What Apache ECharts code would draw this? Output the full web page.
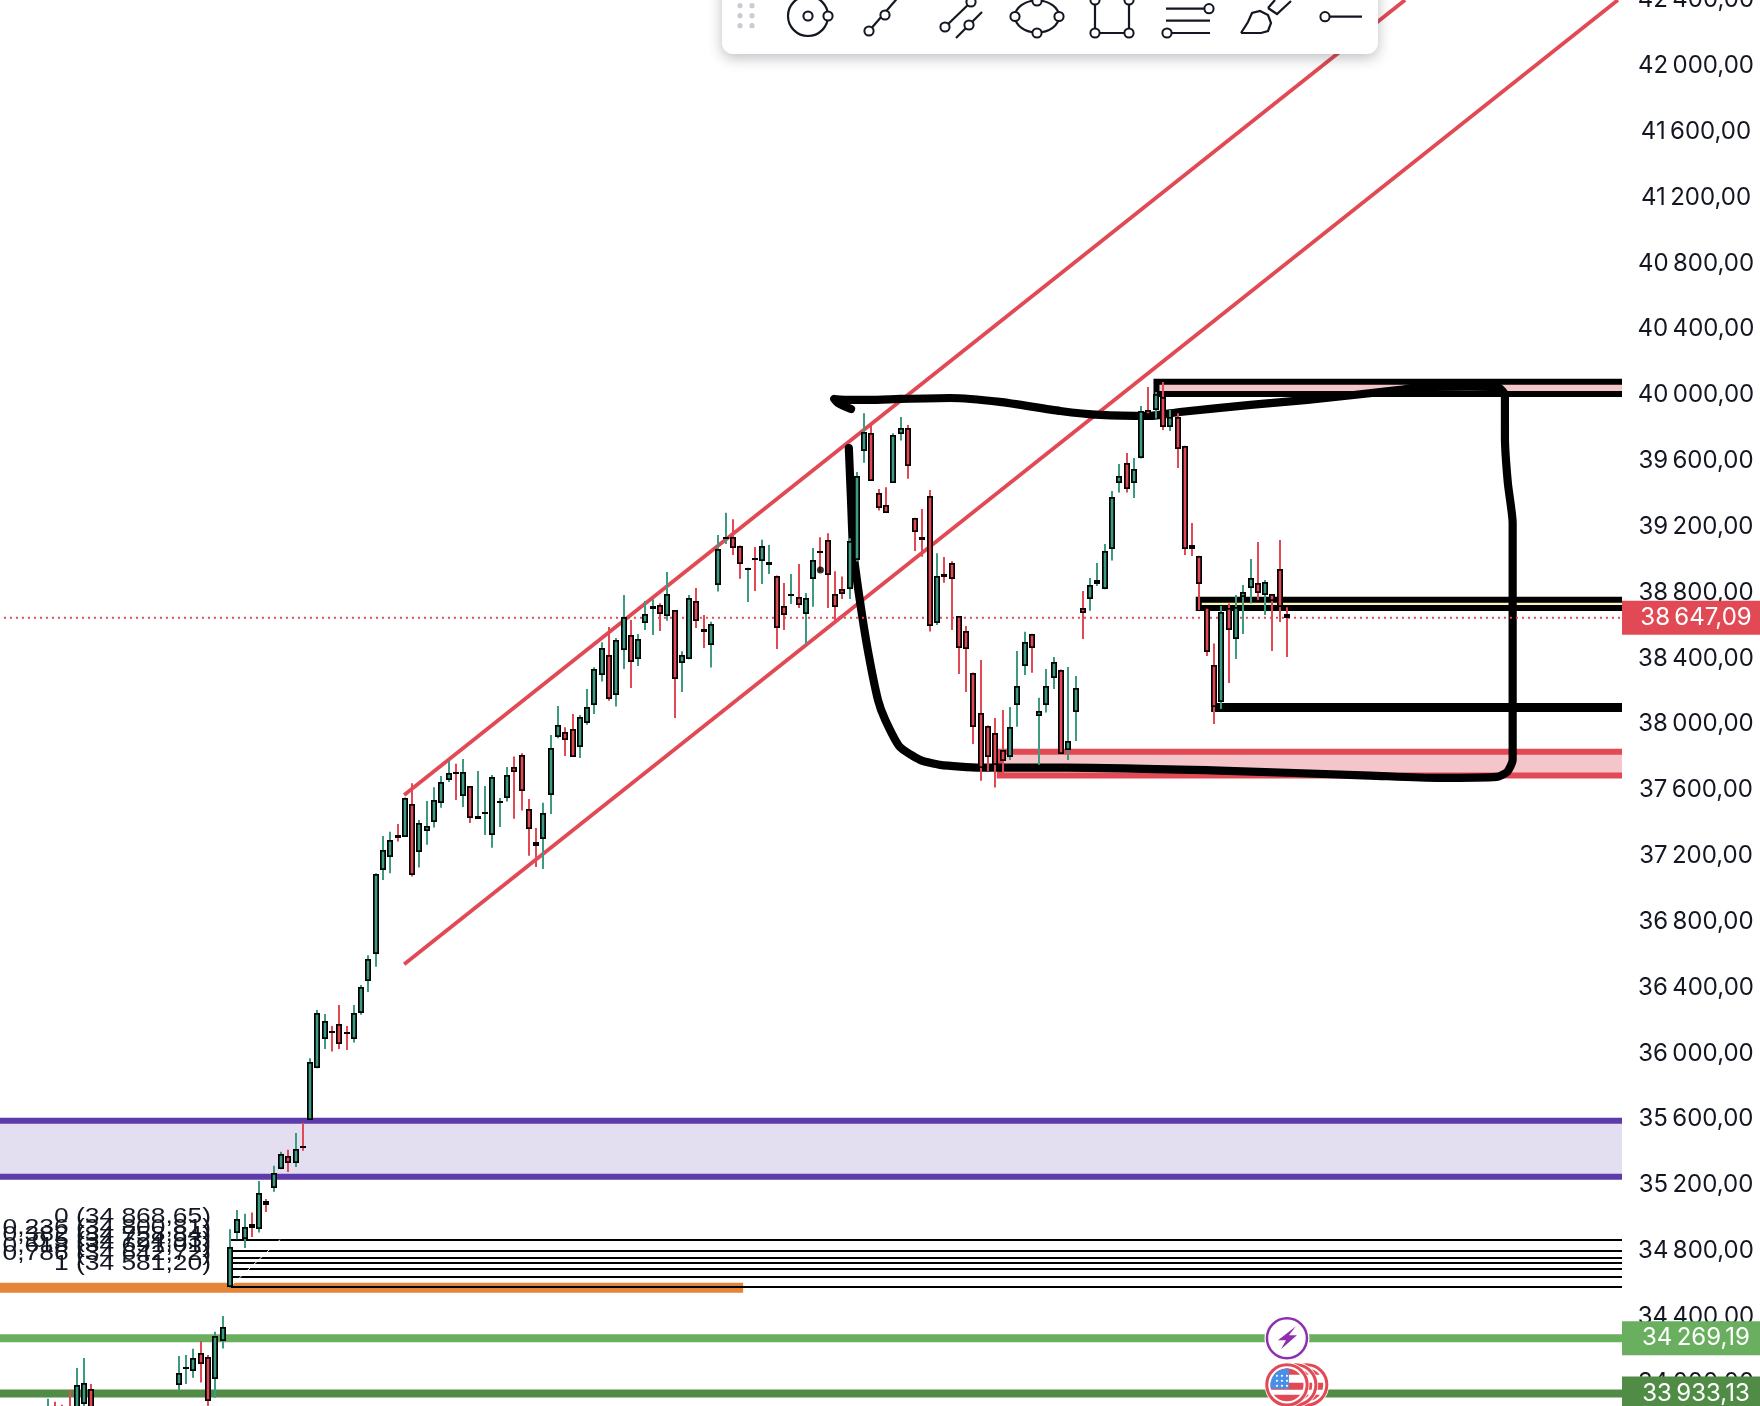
<!DOCTYPE html>
<html><head><meta charset="utf-8">
<style>html,body{margin:0;padding:0;background:#fff;overflow:hidden}#c{width:1760px;height:1406px}</style>
<script src="https://cdn.jsdelivr.net/npm/echarts@6/dist/echarts.min.js"></script>
</head><body><div id="c"></div>
<script>
// [bar, open, close, low, high]
const candles = [
[0,33740,33810,33700,33901],[1,33840,33760,33720,33883],[2,33840,33770,33730,33865],[3,33840,33740,33700,33956],
[4,33800,33984,33780,34089],[5,33867,33996,33840,34150],[6,33960,33780,33750,33992],
[18,33984,34057,33952,34162],[19,34096,34097,33992,34168],[20,34073,34148,34029,34205],[21,34182,34112,34000,34251],
[22,34158,33891,33800,34168],[23,34021,34282,33907,34308],[24,34255,34336,34207,34405],[25,34581,34826,34575,34932],
[26,34907,34993,34871,35049],[27,34871,34944,34818,35025],[28,34962,34942,34885,35033],[29,34932,35150,34912,35225],
[30,35104,35080,35037,35116],[31,35185,35272,35159,35317],[32,35296,35387,35296,35402],[33,35375,35333,35280,35414],
[34,35331,35418,35310,35517],[35,35439,35437,35408,35578],[36,35596,35946,35596,35970],[37,35910,36244,35910,36264],
[38,36086,36199,36027,36240],[39,36139,36138,36011,36167],[40,36181,36055,36027,36294],[41,36127,36126,36021,36167],
[42,36086,36244,36066,36294],[43,36248,36402,36234,36416],[44,36438,36576,36373,36596],[45,36602,37088,36527,37094],
[46,37114,37236,37054,37321],[47,37192,37297,37094,37346],[48,37327,37307,37287,37394],[49,37317,37554,37317,37554],
[50,37516,37084,37074,37641],[51,37224,37402,37129,37418],[52,37352,37384,37267,37534],[53,37404,37542,37372,37617],
[54,37520,37651,37493,37686],[55,37659,37706,37649,37777],[56,37707,37706,37540,37759],[57,37564,37712,37497,37789],
[58,37625,37429,37400,37625],[59,37421,37441,37431,37716],[60,37467,37468,37327,37625],[61,37325,37682,37250,37692],
[62,37530,37531,37376,37552],[63,37550,37694,37530,37740],[64,37742,37710,37425,37803],[65,37815,37593,37475,37823],
[66,37487,37364,37200,37546],[67,37285,37262,37133,37370],[68,37301,37463,37121,37522],[69,37568,37858,37455,37935],
[70,37921,37998,37915,38111],[71,37953,37905,37807,37981],[72,37973,37803,37803,38062],[73,37860,38046,37795,38056],
[74,38006,38107,37996,38214],[75,38115,38334,38062,38346],[76,38299,38465,38259,38498],[77,38423,38154,38143,38591],
[78,38178,38514,38107,38524],[79,38451,38654,38336,38785],[80,38544,38378,38220,38633],[81,38395,38520,38354,38548],
[82,38615,38672,38573,38749],[83,38698,38721,38542,38759],[84,38727,38668,38567,38735],[85,38656,38793,38629,38925],
[86,38694,38273,38038,38694],[87,38370,38423,38196,38443],[88,38395,38769,38395,38785],[89,38751,38625,38585,38828],
[90,38579,38563,38463,38664],[91,38480,38611,38344,38623],[92,38846,39067,38806,39150],[93,39134,39135,39095,39284],
[94,39140,39071,39028,39245],[95,39085,38974,38883,39085],[96,38951,38952,38743,38951],[97,39012,38996,38810,39077],
[98,38990,39085,38852,39120],[99,38968,38988,38913,39089],[100,38903,38583,38457,38903],[101,38721,38662,38573,38858],
[102,38793,38794,38731,38913],[103,38775,38723,38706,38974],[104,38668,38769,38482,38797],[105,38881,39000,38714,39071],
[106,39054,39053,38925,39136],[107,39122,38905,38706,39160],[108,38793,38710,38633,38929],[109,38824,38789,38761,38897],
[110,38820,39111,38761,39130],[111,38998,39508,38988,39533],[112,39660,39778,39589,39889],[113,39772,39478,39478,39824],
[114,39407,39312,39298,39429],[115,39334,39284,39284,39439],[116,39466,39759,39466,39767],[117,39763,39802,39723,39867],
[118,39802,39569,39492,39818],[119,39255,39168,39053,39255],[120,39136,39122,39018,39308],[121,39389,38597,38563,39423],
[122,38615,38903,38603,39038],[123,38915,38895,38860,39016],[124,38980,38883,38573,38990],[125,38658,38463,38305,38658],
[126,38565,38455,38196,38597],[127,38314,37981,37880,38314],[128,38071,37732,37657,38390],[129,37992,37799,37716,37992],
[130,37949,37753,37615,38038],[131,37846,37775,37702,38087],[132,37799,37985,37783,38105],[133,38115,38235,37985,38445],
[134,38354,38502,38299,38561],[135,38550,38461,38312,38550],[136,38050,38081,37753,38160],[137,38115,38235,38071,38336],
[138,38279,38380,38214,38409],[139,38332,37819,37819,38332],[140,37842,37900,37783,38348],[141,38073,38222,37898,38293],
[142,38708,38674,38518,38810],[143,38759,38848,38690,38889],[144,38854,38878,38840,38980],[145,38820,39055,38820,39095],
[146,39063,39382,38994,39417],[147,39463,39510,39407,39581],[148,39589,39427,39407,39648],[149,39463,39553,39374,39617],
[150,39615,39905,39615,39933],[151,39909,39879,39879,40049],[152,39909,40006,39858,40018],[153,39986,39804,39787,40079],
[154,39804,39868,39781,39909],[155,39864,39670,39557,39889],[156,39692,39063,39028,39692],[157,39089,39065,39022,39222],
[158,39024,38850,38694,39024],[159,38710,38441,38415,38710],[160,38362,38107,38001,38491],[161,38137,38684,38093,38718],
[162,38708,38570,38250,38734],[163,38516,38710,38396,38785],[164,38771,38805,38548,38846],[165,38826,38886,38734,39004],
[166,38860,38795,38755,39107],[167,38783,38866,38664,38876],[168,38791,38751,38445,38791],[169,38945,38714,38621,39119],
[170,38672,38647,38408,38710]
];
const yTicks = {min:33600, max:42400, step:400};
const lastPrice = 38647.09, supportA = 34269.19, supportB = 33933.13;
const upperChannel = [[48.9,37570],[186.2,42400]];
const lowerChannel = [[48.9,36542],[215.4,42400]];
// zones: [from bar, top price, bottom price]
const purpleZone = [[-8,35590,35250]];
const redZone = [[130.6,37833,37689]];
const topZone = [[152.1,40081,40006]];
const creamZone = [[157.9,38756,38706]];
const thickLevel = [[159.6,38102],[215.96,38102]];
const orangeLevel = [[-6.54,34575.6],[95.4,34575.6]];
const fibLevels = ['0','0,236','0,382','0,5','0,618','0,786','1'];
const fibPrices = [34868.65,34800.81,34758.84,34724.93,34691.01,34642.72,34581.20];
const fibStartBar = 25, fibLabelBar = 22.4;
const fibDiagonal = [[25,34581.2],[31.9,34868.65]];
const handStroke = [[110.2,39915],[108.4,39952],[107.9,39976],[110.1,39970],[112.8,39970],[116.9,39976],[123.8,39982],[130.6,39958],[138.9,39903],[144.4,39879],[151.2,39873],[155.3,39897],[165,39940],[172.8,39970],[185.5,40031],[188.2,40049],[195.1,40051],[198.8,40049],[199.9,40000],[199.9,39745],[200.3,39466],[200.96,39223],[200.96,37862],[200.96,37783],[200.2,37710],[198.8,37680],[190.6,37674],[181.4,37688],[160.8,37718],[139.8,37736],[127.9,37736],[122.4,37753],[119.7,37783],[116.9,37862],[114.9,38026],[113.9,38147],[112.5,38451],[111.4,38755],[110.5,39059],[110.2,39363],[109.9,39678]];
const handDot = [[106,38937]];
const boltEvents = [[170,34269.19]];
const flagEvents = [[172.7,33986],[171.2,33986],[170,33986]];

const RED='#e14a54',TEAL='#3f9a82',PURPLE='#5e3bab',LAV='#e3dff1',ORANGE='#e58539',GREEN='#6aae5f',DGREEN='#518c47',PINK='#f4c6ca',INK='#131722',CREAM='#fff2b8';
const FONT='400 24px Inter, "Noto Sans", sans-serif';
const X0=-6.54,X1=215.96;
function fmt(v,sep){const s=v.toFixed(2).split('.');return s[0].replace(/(\d+)(\d{3})$/,'$1'+(sep||'\u2009')+'$2')+','+s[1];}
function lineSeries(data,color,width,z,extra){return Object.assign({type:'line',data,symbol:'none',silent:true,animation:false,z,lineStyle:{color,width,cap:'butt'}},extra||{});}
function zoneSeries(rows,color,fill,width,z){return {type:'custom',data:rows,animation:false,silent:true,z,encode:{x:0,y:[1,2]},renderItem(p,api){
  const a=api.coord([api.value(0),api.value(1)]),b=api.coord([api.value(0),api.value(2)]),r=api.coord([X1,api.value(1)])[0];
  return {type:'group',children:[
    {type:'rect',shape:{x:a[0],y:a[1],width:r-a[0],height:b[1]-a[1]},style:{fill}},
    {type:'polyline',shape:{points:[[r,a[1]],[a[0],a[1]],[a[0],b[1]],[r,b[1]]]},style:{stroke:color,lineWidth:width,fill:null,lineJoin:'miter'}}]};
}};}
function bandPoly(y1,y2,r){const pts=[];const n=10;
  for(let i=0;i<=n;i++){const y=y1+(y2-y1)*i/n;pts.push([Math.sqrt(Math.max(0,r*r-y*y)),y]);}
  for(let i=n;i>=0;i--){const y=y1+(y2-y1)*i/n;pts.push([-Math.sqrt(Math.max(0,r*r-y*y)),y]);}
  return pts;}
function cantonPoly(y1,y2,r,xr){const pts=[];const n=10;
  pts.push([xr,-Math.sqrt(r*r-xr*xr)]);pts.push([xr,y2]);
  for(let i=n;i>=0;i--){const y=y1+(y2-y1)*i/n;pts.push([-Math.sqrt(Math.max(0,r*r-y*y)),y]);}
  return pts;}
const series=[
 zoneSeries(purpleZone,PURPLE,LAV,6,2),
 zoneSeries(redZone,RED,PINK,6,2),
 zoneSeries(topZone,'#000',PINK,6,2),
 zoneSeries(creamZone,'#000',CREAM,6,2),
 lineSeries(orangeLevel,ORANGE,10,2),
 lineSeries([[X0,supportA],[X1,supportA]],GREEN,8,2),
 lineSeries([[X0,supportB],[X1,supportB]],DGREEN,8,2),
 lineSeries(thickLevel,'#000',9,2),
 {type:'custom',data:fibPrices.map((p,i)=>[fibStartBar,p,i]),animation:false,silent:true,z:3,encode:{x:0,y:1},renderItem(pr,api){
   const a=api.coord([api.value(0),api.value(1)]),r=api.coord([X1,api.value(1)])[0],tx=api.coord([fibLabelBar,api.value(1)])[0],i=api.value(2);
   return {type:'group',children:[
     {type:'rect',shape:{x:a[0],y:Math.round(a[1])-1,width:r-a[0],height:2},style:{fill:'#000'}},
     {type:'group',x:tx,y:a[1]-22.5,scaleX:1.2,children:[
       {type:'text',style:{x:0,y:0,text:fibLevels[i]+' ('+fmt(fibPrices[i],' ')+')',fill:INK,font:'400 22px "Liberation Sans", sans-serif',textAlign:'right',textVerticalAlign:'middle'}}]}]};
 }},
 lineSeries(fibDiagonal,'#ffffff',1,3),
 lineSeries(upperChannel,RED,3.8,3),
 lineSeries(lowerChannel,RED,3.8,3),
 lineSeries(handStroke,'#000',8.2,4,{smooth:0.2,lineStyle:{color:'#000',width:8.2,cap:'round',join:'round'}}),
 lineSeries([[-6,lastPrice],[X1,lastPrice]],RED,2,5,{lineStyle:{color:RED,width:2,type:[2,4]}}),
 {type:'scatter',data:handDot,symbol:'circle',symbolSize:7,itemStyle:{color:'#000'},silent:true,animation:false,z:7},
 {type:'custom',data:candles,animation:false,silent:true,z:6,encode:{x:0,y:[1,2,3,4]},renderItem(p,api){
   const b=api.value(0),o=api.value(1),c=api.value(2),l=api.value(3),h=api.value(4);
   const x=Math.round(api.coord([b,o])[0]),yo=api.coord([b,o])[1],yc=api.coord([b,c])[1],yl=api.coord([b,l])[1],yh=api.coord([b,h])[1];
   const col=c>=o?TEAL:RED;const t=Math.round(Math.min(yo,yc));let ht=Math.round(Math.max(yo,yc))-t;if(ht<2)ht=2;
   const kids=[{type:'rect',shape:{x:x-1,y:yh,width:2,height:yl-yh},style:{fill:col}},
     {type:'rect',shape:{x:x-3,y:t,width:6,height:ht},style:{fill:'#000'}}];
   if(ht>4)kids.push({type:'rect',shape:{x:x-1.3,y:t+1.7,width:2.6,height:ht-3.4},style:{fill:col}});
   return {type:'group',children:kids};
 }},
 {type:'custom',data:[[lastPrice,0],[supportA,1],[supportB,2]],animation:false,silent:true,z:8,encode:{y:0},renderItem(p,api){
   const v=api.value(0),cols=[RED,GREEN,DGREEN],y=api.coord([X1,v])[1],x=api.coord([X1,v])[0];
   return {type:'group',children:[
     {type:'rect',shape:{x,y:y-17,width:138,height:34},style:{fill:cols[api.value(1)]}},
     {type:'text',style:{x:x+74,y:y,text:fmt(v),fill:'#fff',font:FONT,textAlign:'center',textVerticalAlign:'middle'}}]};
 }},
 {type:'custom',data:boltEvents,animation:false,silent:true,z:9,encode:{x:0,y:1},renderItem(p,api){
   const c=api.coord([api.value(0),api.value(1)]);
   return {type:'group',x:c[0],y:c[1],children:[
     {type:'circle',shape:{cx:0,cy:0,r:22.5},style:{fill:'#fff'}},
     {type:'circle',shape:{cx:0,cy:0,r:20},style:{fill:'#fff',stroke:'#8e2fb0',lineWidth:2.5}},
     {type:'polygon',shape:{points:[[9,-12],[-9,2],[-1,2],[-6,11],[10,-3],[2,-3]]},style:{fill:'#8e2fb0'}}]};
 }},
 {type:'custom',data:flagEvents,animation:false,silent:true,z:9,encode:{x:0,y:1},renderItem(p,api){
   const c=api.coord([api.value(0),api.value(1)]);const R=16.5;const kids=[
     {type:'circle',shape:{cx:0,cy:0,r:22.5},style:{fill:'#fff'}},
     {type:'circle',shape:{cx:0,cy:0,r:20.2},style:{fill:'#fff',stroke:RED,lineWidth:3}},
     {type:'polygon',shape:{points:bandPoly(-16.5,-10,R)},style:{fill:RED}},
     {type:'polygon',shape:{points:bandPoly(-2,5,R)},style:{fill:RED}},
     {type:'polygon',shape:{points:bandPoly(10,16.5,R)},style:{fill:RED}},
     {type:'polygon',shape:{points:cantonPoly(-16.5,4,R,2)},style:{fill:'#4a8fe7'}}];
   [-10,-5,0].forEach(sx=>[-9,-4,1].forEach(sy=>kids.push({type:'circle',shape:{cx:sx,cy:sy,r:1.1},style:{fill:'#fff'}})));
   return {type:'group',x:c[0],y:c[1],children:kids};
 }}
];
const hs=(shape,type)=>({type,z:101,silent:true,shape,style:{fill:null,stroke:INK,lineWidth:2.2}});
const line=(pts,smooth)=>hs({points:pts,smooth:smooth||0},'polyline');
const knob=(x,y)=>({type:'circle',z:102,silent:true,shape:{cx:x,cy:y,r:4.6},style:{fill:'#fff',stroke:INK,lineWidth:2}});
const graphics=[
 {type:'rect',z:100,silent:true,shape:{x:722,y:-30,width:656,height:84,r:11},style:{fill:'#fff',shadowBlur:14,shadowColor:'rgba(20,25,40,0.28)',shadowOffsetY:4}}
];
[[740,5.7],[752,5.7],[740,15.7],[752,15.7],[740,25.7],[752,25.7]].forEach(d=>graphics.push({type:'circle',z:101,silent:true,shape:{cx:d[0],cy:d[1],r:2.6},style:{fill:'#c9ccd4'}}));
graphics.push(
 hs({cx:808,cy:16,r:20},'circle'),knob(808,16),knob(828,16),
 line([[869,31],[901,-6]]),knob(869,31),knob(885,15),
 line([[945,27],[971,2]]),line([[956,38],[982,12]]),knob(945,27),knob(971,2),knob(969,25),
 hs({cx:1037,cy:16.5,rx:22,ry:16},'ellipse'),knob(1037,1),knob(1037,33),knob(1015,16.5),knob(1059,16.5),
 line([[1095,-5],[1095,33],[1129,33],[1129,-5]]),knob(1095,0),knob(1129,0),knob(1095,33),knob(1129,33),
 line([[1166,8.7],[1209,8.7]]),line([[1166,20.7],[1210,20.7]]),line([[1167,33],[1210,33]]),knob(1209,8.7),knob(1167,33),
 line([[1241,33],[1248,22],[1252,13],[1260,11],[1268,15],[1271,23],[1268,31],[1261,33],[1241,33]]),
 line([[1268,8],[1277,14],[1291,1]]),line([[1268,8],[1275,0]]),
 line([[1325,16.7],[1362,16.7]]),knob(1325,16.7)
);
const chart=echarts.init(document.getElementById('c'),null,{renderer:'canvas',width:1760,height:1406});
chart.setOption({
 animation:false,backgroundColor:'#fff',
 grid:{left:0,top:0,width:1622,height:1448.4,containLabel:false,outerBoundsMode:'none'},
 xAxis:{type:'value',min:X0,max:X1,show:false},
 yAxis:{type:'value',position:'right',min:yTicks.min,max:yTicks.max,interval:yTicks.step,
   axisLine:{show:false},axisTick:{show:false},splitLine:{show:false},
   axisLabel:{show:true,margin:74,color:INK,fontFamily:'Inter',fontSize:24,fontWeight:400,align:'center',padding:[0,0,4,0],showMaxLabel:true,showMinLabel:true,hideOverlap:false,formatter:v=>fmt(v)}},
 series,
 graphic:{elements:graphics}
});
</script></body></html>
